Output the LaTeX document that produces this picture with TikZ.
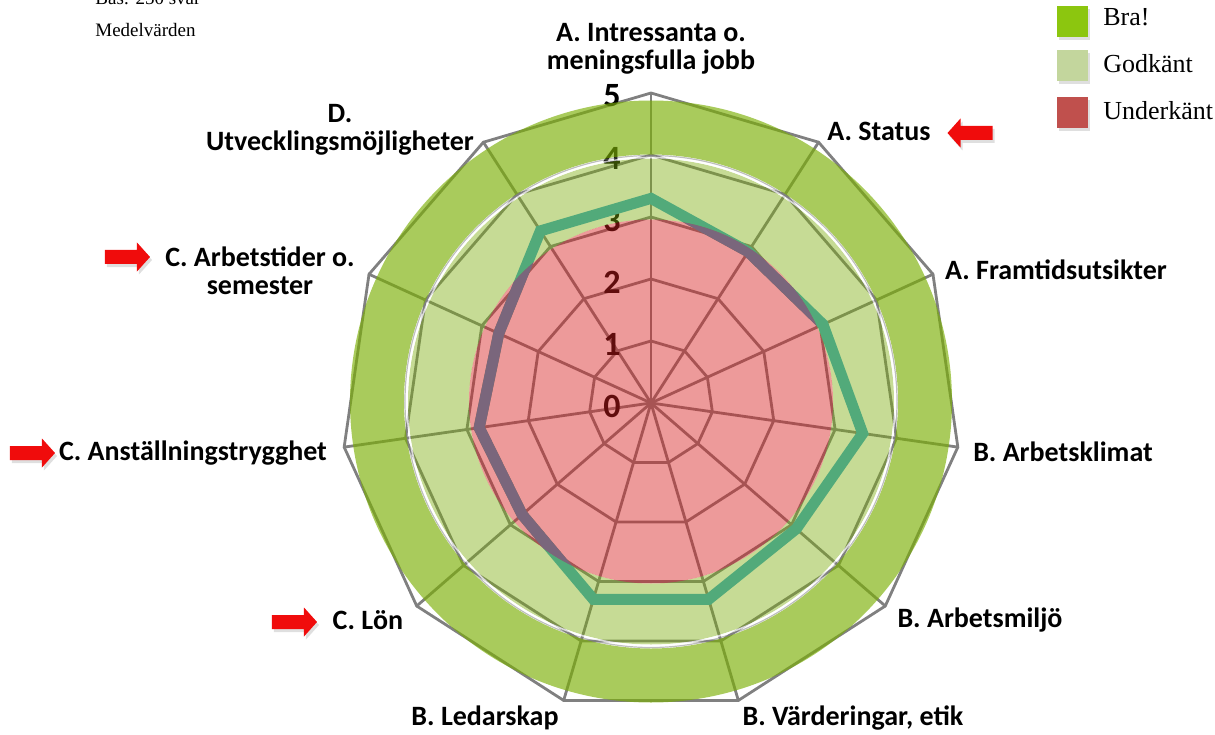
\documentclass[tikz,border=0pt]{standalone}
\usepackage{fontspec}
\setmainfont{Carlito}
\newfontfamily\legfont{Liberation Serif}
\usetikzlibrary{shadows}

\definecolor{gridgray}{RGB}{128,128,128}
\definecolor{bragreen}{RGB}{123,175,5}
\definecolor{godkgreen}{RGB}{123,172,10}
\definecolor{underred}{RGB}{215,30,30}
\definecolor{serieteal}{RGB}{82,170,122}
\definecolor{seriedark}{RGB}{122,102,124}
\definecolor{legbra}{RGB}{140,198,15}
\definecolor{leggodk}{RGB}{195,214,157}
\definecolor{legunder}{RGB}{192,80,77}
\definecolor{arrowred}{RGB}{240,12,12}

\tikzset{
  gridline/.style={gridgray, line width=1.4pt},
  numlabel/.style={inner sep=0, font=\bfseries\fontsize{17}{18}\selectfont},
  axislabel/.style={inner sep=0, align=center, font=\bfseries\fontsize{14}{14}\selectfont},
  serieline/.style={line width=5.5pt, miter limit=4},
  legbox/.style={minimum size=15.5pt, inner sep=0, drop shadow={shadow xshift=1pt, shadow yshift=-1.5pt, opacity=0.25}},
  legtext/.style={anchor=base west, inner sep=0, font=\legfont\fontsize{13}{13}\selectfont},
  redarrow/.pic={
    \fill[arrowred, drop shadow={shadow xshift=1pt, shadow yshift=-1.5pt, opacity=0.25}]
      (-22.5,-7) -- (9.5,-7) -- (9.5,-14.5) -- (22.5,0) -- (9.5,14.5) -- (9.5,7) -- (-22.5,7) -- cycle;
  }
}

\begin{document}
\begin{tikzpicture}[x=0.5pt, y=0.5pt]
  \useasboundingbox (-651,-331) rectangle (564,403);
  \coordinate (c) at (0,0);
  \coordinate (bc) at (0,1.5);
  \foreach \k in {0,...,10}
    \coordinate (ax\k) at ({90-\k*360/11}:311);
  \foreach \l in {1,...,5}
    \draw[gridline] (90:{\l*62}) \foreach \k in {1,...,10} {-- ({90-\k*360/11}:{\l*62})} -- cycle;
  \foreach \k in {0,...,10}
    \draw[gridline] (c) -- (ax\k);
  \foreach \l in {0,...,5}
    \node[numlabel] (n\l) at (-39,{\l*62-3}) {\l};

  \fill[bragreen, opacity=0.65, even odd rule] (bc) circle (301) (bc) circle (247);
  \fill[godkgreen, opacity=0.43, even odd rule] (bc) circle (243) (bc) circle (182);
  \draw[gridgray, line width=0.6pt, opacity=0.5] (bc) circle (246);
  \draw[white, line width=0.8pt, opacity=0.7] (bc) circle (244);

  \foreach \v [count=\i from 0] in {3.3,2.9,3.05,3.45,3.1,3.3,3.3,2.75,2.8,2.7,3.3}
    \coordinate (p\i) at ({90-\i*360/11}:{\v*62});
  \draw[serieline, serieteal] (p0) -- (p1) -- (p2) -- (p3) -- (p4) -- (p5) -- (p6) -- (p7) -- (p8) -- (p9) -- (p10) -- cycle;

  \fill[underred, opacity=0.45] (bc) circle (182);
  \begin{scope}
    \clip (bc) circle (182);
    \draw[serieline, seriedark] (p0) -- (p1) -- (p2) -- (p3) -- (p4) -- (p5) -- (p6) -- (p7) -- (p8) -- (p9) -- (p10) -- cycle;
  \end{scope}

  \node[axislabel] (lab0) at (0,354) {A. Intressanta o.\\meningsfulla jobb};
  \node[axislabel] (lab1) at (228,272) {A. Status};
  \node[axislabel] (lab2) at (405,133) {A. Framtidsutsikter};
  \node[axislabel] (lab3) at (412,-49) {B. Arbetsklimat};
  \node[axislabel] (lab4) at (329,-217) {B. Arbetsmiljö};
  \node[axislabel] (lab5) at (202,-315) {B. Värderingar, etik};
  \node[axislabel] (lab6) at (-166,-315) {B. Ledarskap};
  \node[axislabel] (lab7) at (-283,-217) {C. Lön};
  \node[axislabel] (lab8) at (-458,-50) {C. Anställningstrygghet};
  \node[axislabel] (lab9) at (-391,132) {C. Arbetstider o.\\semester};
  \node[axislabel] (lab10) at (-311,273) {D.\\Utvecklingsmöjligheter};

  \pic[rotate=180] (arrStatus) at (319,270) {redarrow};
  \pic (arrTider) at (-523.5,146) {redarrow};
  \pic (arrTrygg) at (-618.5,-50) {redarrow};
  \pic (arrLon) at (-356.5,-219) {redarrow};

  \node[legtext, font=\legfont\fontsize{9.5}{9.5}\selectfont] (bas) at (-556,398) {Bas: 250 svar};
  \node[legtext, font=\legfont\fontsize{9.5}{9.5}\selectfont] (medel) at (-556,366) {Medelvärden};

  \node[legbox, fill=legbra] (boxBra) at (421.5,381.5) {};
  \node[legbox, fill=leggodk] (boxGodk) at (421.5,337.5) {};
  \node[legbox, fill=legunder] (boxUnder) at (421.5,290.5) {};
  \node[legtext] (txtBra) at (452,377) {Bra!};
  \node[legtext] (txtGodk) at (452,330) {Godkänt};
  \node[legtext] (txtUnder) at (452,283) {Underkänt};
\end{tikzpicture}
\end{document}
